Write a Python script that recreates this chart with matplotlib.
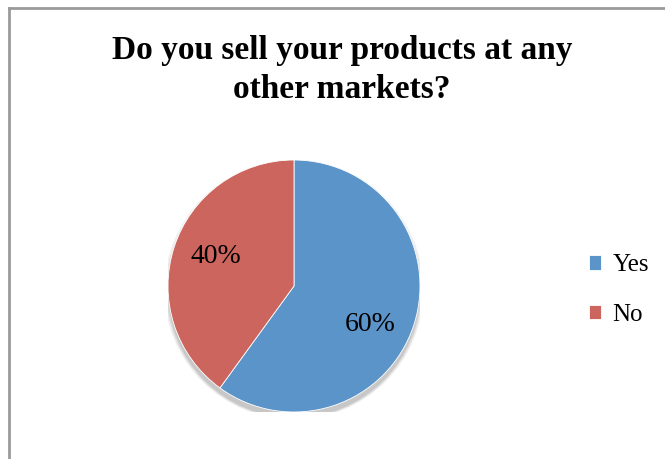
import matplotlib
matplotlib.use("Agg")
import matplotlib.pyplot as plt
import numpy as np
from matplotlib.patches import Ellipse

labels = ["Yes", "No"]
shares = [60, 40]
colors = ["#5B94C9", "#CB655E"]
title = "Do you sell your products at any\nother markets?"

W, H = 665, 459
fig = plt.figure(figsize=(W / 100, H / 100), dpi=100)

# chart frame (only top and left visible in the crop)
fig.add_artist(plt.Line2D([9 / W, 1], [1 - 8 / H, 1 - 8 / H], color="#9a9a9a", lw=2))
fig.add_artist(plt.Line2D([9 / W, 9 / W], [0, 1 - 8 / H], color="#9a9a9a", lw=2))

fig.text(342 / W, 1 - 70 / H, title, ha="center", va="center", fontsize=24,
         fontweight="bold", family="Liberation Serif", linespacing=1.35)

cx, cy, r = 294, 286, 126
ax = fig.add_axes([(cx - r) / W, (H - cy - r) / H, 2 * r / W, 2 * r / H])

# soft shadow under the pie
for i, a in enumerate([0.05, 0.05, 0.06, 0.07]):
    ax.add_patch(Ellipse((0.0, -0.03 - 0.005 * i), 2.0 + 0.02 * (3 - i), 2.0 + 0.02 * (3 - i),
                         color="black", alpha=a, lw=0, zorder=0))

wedges, texts, autotexts = ax.pie(shares, colors=colors, startangle=90, counterclock=False,
                                  autopct="%d%%", pctdistance=0.66, radius=1,
                                  wedgeprops=dict(linewidth=0.6, edgecolor="white"),
                                  textprops=dict(fontsize=20, family="Liberation Serif", color="black"))
# Excel's best-fit placement puts the big slice's label a bit lower than the mid angle
ang = np.deg2rad(-27)
autotexts[0].set_position((0.68 * np.cos(ang), 0.68 * np.sin(ang)))
ang = np.deg2rad(159)
autotexts[1].set_position((0.66 * np.cos(ang), 0.66 * np.sin(ang)))

ax.set_aspect("equal")
ax.set_xlim(-1, 1)
ax.set_ylim(-1, 1)
ax.axis("off")

fig.legend(wedges, labels, loc="center left", bbox_to_anchor=(566 / W, 1 - 290 / H),
           frameon=False, prop=dict(family="Liberation Serif", size=18),
           handlelength=0.5, handleheight=0.5, handletextpad=0.45, labelspacing=1.1)

fig.savefig("out.png", dpi=100, facecolor="white")
